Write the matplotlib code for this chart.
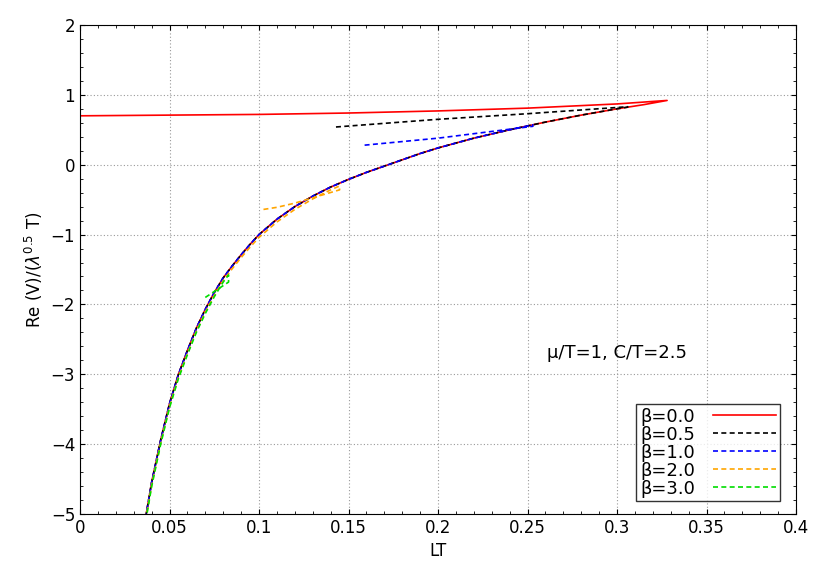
import numpy as np
import matplotlib.pyplot as plt

# lower branch shared by all curves (LT, Re V)
low_lt = [0.037, 0.04, 0.045, 0.05, 0.055, 0.06, 0.065, 0.07, 0.075, 0.08, 0.085, 0.09,
          0.095, 0.1, 0.11, 0.12, 0.13, 0.14, 0.15, 0.16, 0.17, 0.18, 0.19, 0.2,
          0.22, 0.24, 0.26, 0.28, 0.3, 0.315, 0.328]
low_v = [-5.0, -4.55, -3.95, -3.42, -3.0, -2.66, -2.34, -2.07, -1.83, -1.62, -1.45, -1.29,
         -1.14, -1.0, -0.78, -0.6, -0.45, -0.32, -0.21, -0.11, -0.02, 0.07, 0.16, 0.24,
         0.38, 0.5, 0.61, 0.71, 0.8, 0.86, 0.92]

# upper branches: (LT, Re V) from start to cusp
up = {
    "0.0": ([0.0, 0.1, 0.15, 0.2, 0.25, 0.3, 0.328], [0.70, 0.72, 0.74, 0.77, 0.81, 0.87, 0.92]),
    "0.5": ([0.143, 0.2, 0.25, 0.306], [0.54, 0.65, 0.73, 0.83]),
    "1.0": ([0.159, 0.2, 0.253], [0.28, 0.38, 0.55]),
    "2.0": ([0.1025, 0.11, 0.12, 0.145], [-0.64, -0.61, -0.55, -0.36]),
    "3.0": ([0.070, 0.083], [-1.90, -1.68]),
}
colors = {"0.0": "red", "0.5": "black", "1.0": "blue", "2.0": "orange", "3.0": "#00dd00"}
offsets = {"0.0": 0.0, "0.5": 0.0, "1.0": 0.0, "2.0": -0.04, "3.0": -0.06}

fig = plt.figure(figsize=(8.3, 5.81), dpi=100)
ax = fig.add_axes([80 / 830, 1 - 514 / 581, 716 / 830, 489 / 581])

for b, (xu, yu) in up.items():
    xe = xu[-1]
    lx = np.array([x for x in low_lt if x < xe] + [xe])
    ly = np.interp(lx, low_lt, low_v) + offsets[b]
    xs = list(xu) + list(lx[::-1])
    ys = list(yu) + list(ly[::-1])
    ls = "-" if b == "0.0" else (0, (3, 2))
    ax.plot(xs, ys, color=colors[b], lw=1.2, ls=ls, label=f"β={b}")

ax.set_xlim(0, 0.4)
ax.set_ylim(-5, 2)
ax.set_xticks(np.arange(0, 0.41, 0.05))
ax.set_xticklabels(["0", "0.05", "0.1", "0.15", "0.2", "0.25", "0.3", "0.35", "0.4"])
ax.set_yticks(range(-5, 3))
ax.grid(True, color="#999999", ls=(0, (1, 2)), lw=0.8)
ax.tick_params(direction="in", top=True, right=True, labelsize=12)
ax.minorticks_on()
ax.tick_params(which="minor", direction="in", top=True, right=True)
ax.set_xlabel("LT", fontsize=12)
ax.set_ylabel(r"Re (V)/($\lambda^{0.5}$ T)", fontsize=12)
ax.text(0.3, -2.7, "μ/T=1, C/T=2.5", fontsize=13, ha="center", va="center")
leg = ax.legend(loc="lower right", bbox_to_anchor=(0.985, 0.015), fontsize=13, frameon=True,
                fancybox=False, edgecolor="black", handlelength=3.5, markerfirst=False,
                borderpad=0.2, labelspacing=0.0, handletextpad=1.0, borderaxespad=0.3)
leg.get_frame().set_linewidth(1.0)
fig.savefig("out.png", dpi=100)
